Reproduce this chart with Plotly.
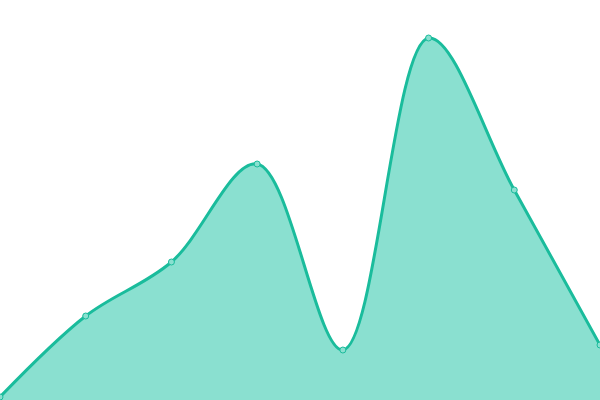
import plotly.graph_objects as go

# values (pixel height 400 -> value scale 0..400)
categories = [0, 1, 2, 3, 4, 5, 6, 7]
values = [3, 84, 138, 236, 50, 362, 210, 55]

line_color = "#1abc9c"
fill_color = "#8ae0d0"

fig = go.Figure(go.Scatter(
    x=categories, y=values,
    mode="lines+markers",
    line=dict(color=line_color, width=3, shape="spline", smoothing=1),
    fill="tozeroy", fillcolor=fill_color,
    marker=dict(size=6, color=fill_color, line=dict(color=line_color, width=1)),
    cliponaxis=False,
    hoverinfo="skip",
))

fig.update_layout(
    width=600, height=400,
    margin=dict(l=0, r=0, t=0, b=0),
    paper_bgcolor="white", plot_bgcolor="white",
    showlegend=False,
    xaxis=dict(range=[0, 7], visible=False),
    yaxis=dict(range=[0, 400], visible=False),
)

# drop the browser's default body margin so the chart sits at the corner
fig.write_html(
    "out.html",
    config={"displayModeBar": False, "staticPlot": True},
    post_script="document.body.style.margin='0';document.body.style.overflow='hidden';",
)
